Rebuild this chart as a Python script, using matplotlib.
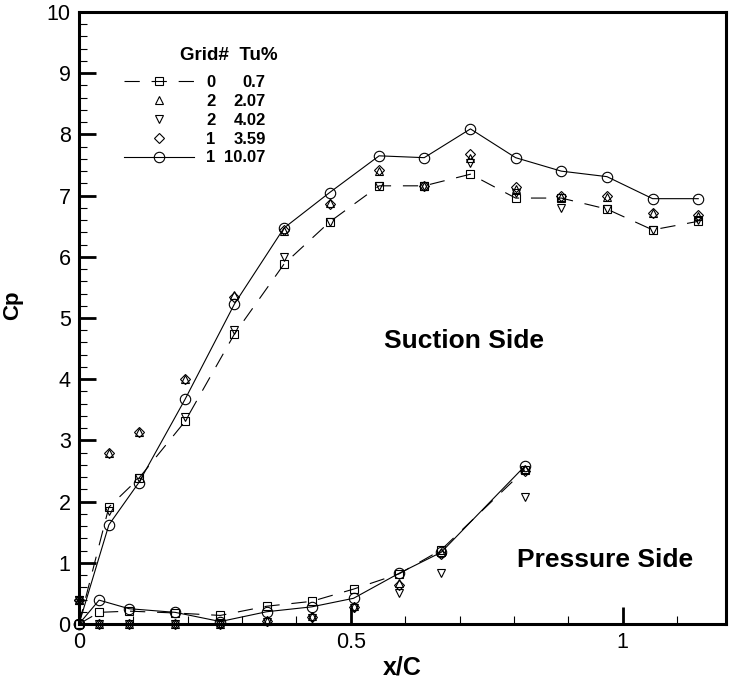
import matplotlib
matplotlib.use('Agg')
import matplotlib.pyplot as plt
from matplotlib.ticker import MultipleLocator, FuncFormatter

plt.rcParams['font.family'] = ['Liberation Sans', 'DejaVu Sans']
plt.rcParams['lines.scale_dashes'] = False

# stations on the suction side and pressure side (x/C)
xs = [0, 0.055, 0.110, 0.195, 0.286, 0.377, 0.461, 0.552, 0.635, 0.720,
      0.803, 0.887, 0.971, 1.055, 1.139]
xp = [0, 0.037, 0.092, 0.177, 0.260, 0.345, 0.428, 0.505, 0.589, 0.666, 0.820]

# suction side Cp, one list per Tu
s_tu07 = [0, 1.91, 2.38, 3.31, 4.74, 5.88, 6.57, 7.16, 7.16, 7.35,
          6.96, 6.96, 6.78, 6.44, 6.58]
s_tu207 = [0.40, 2.79, 3.14, 4.00, 5.37, 6.42, 6.88, 7.40, 7.16, 7.62,
           7.10, 6.98, 6.98, 6.72, 6.66]
s_tu402 = [0.40, 1.85, 2.38, 3.39, 4.80, 5.99, 6.57, 7.16, 7.16, 7.53,
           7.05, 6.79, 6.78, 6.44, 6.60]
s_tu359 = [0.40, 2.79, 3.14, 4.00, 5.35, 6.43, 6.86, 7.42, 7.16, 7.68,
           7.14, 6.99, 6.99, 6.72, 6.69]
s_tu1007 = [0, 1.62, 2.31, 3.67, 5.23, 6.47, 7.05, 7.65, 7.62, 8.09,
            7.62, 7.40, 7.31, 6.95, 6.95]

# pressure side Cp
p_tu07 = [0, 0.19, 0.21, 0.18, 0.14, 0.29, 0.37, 0.57, 0.82, 1.21, 2.52]
p_tu207 = [0.40, 0, 0, 0, 0, 0.05, 0.13, 0.30, 0.67, 1.18, 2.53]
p_tu402 = [0.40, 0, 0, 0, 0, 0.04, 0.10, 0.26, 0.51, 0.83, 2.07]
p_tu359 = [0.40, 0, 0, 0, 0, 0.05, 0.11, 0.28, 0.64, 1.15, 2.50]
p_tu1007 = [0, 0.39, 0.25, 0.19, 0.04, 0.20, 0.28, 0.42, 0.83, 1.17, 2.58]

grid = ['0', '2', '2', '1', '1']
tu = ['0.7', '2.07', '4.02', '3.59', '10.07']

suction = [s_tu07, s_tu207, s_tu402, s_tu359, s_tu1007]
pressure = [p_tu07, p_tu207, p_tu402, p_tu359, p_tu1007]
markers = ['s', '^', 'v', 'D', 'o']
msizes = [5.5, 5.5, 5.5, 5.6, 7.5]
styles = [(0, (11, 8.5)), 'none', 'none', 'none', '-']

fig = plt.figure(figsize=(7.32, 6.83), dpi=100)
ax = fig.add_axes([0.1079, 0.0864, 0.8839, 0.896])

handles = []
for ys, yp, m, ms, ls in zip(suction, pressure, markers, msizes, styles):
    kw = dict(color='black', marker=m, markersize=ms, mfc='none', mec='black',
              mew=0.8, linewidth=0.8, linestyle=ls, clip_on=False)
    h, = ax.plot(xs, ys, **kw)
    ax.plot(xp, yp, **kw)
    handles.append(h)

ax.set_xlim(0, 1.19)
ax.set_ylim(0, 10)

ax.xaxis.set_major_locator(MultipleLocator(0.5))
ax.xaxis.set_minor_locator(MultipleLocator(0.1))
ax.yaxis.set_major_locator(MultipleLocator(1))
ax.yaxis.set_minor_locator(MultipleLocator(0.2))
ax.xaxis.set_major_formatter(FuncFormatter(lambda v, p: '%g' % v))
ax.tick_params(which='both', direction='in', top=False, right=False,
               labelsize=15.5, pad=6)
ax.tick_params(which='major', length=12, width=2)
ax.tick_params(which='minor', length=6, width=0.8)
for sp in ax.spines.values():
    sp.set_linewidth(2.2)

ax.set_xlabel('x/C', fontsize=18, fontweight='bold')
ax.xaxis.set_label_coords(0.5, -0.052)
ax.set_ylabel('Cp', fontsize=16, fontweight='bold')
ax.yaxis.set_label_coords(-0.087, 0.521)

ax.text(0.561, 4.63, 'Suction Side', fontsize=19, fontweight='bold', va='center')
ax.text(0.805, 1.05, 'Pressure Side', fontsize=19, fontweight='bold', va='center')

leg = ax.legend(handles, grid, loc='upper left', bbox_to_anchor=(0.0696, 0.897),
                frameon=False, borderpad=0, borderaxespad=0, handlelength=4.2,
                handletextpad=0.72, labelspacing=0.23,
                prop={'weight': 'bold', 'size': 12})
texts = leg.get_texts()
for t, v in zip(texts, tu):
    ax.annotate(v, xy=(0, 0.5), xycoords=t, xytext=(43, 0),
                textcoords='offset points', ha='right', va='center',
                fontsize=12, fontweight='bold', zorder=6)
ax.annotate('Grid#  Tu%', xy=(0, 0.5), xycoords=texts[0], xytext=(-18.7, 19.4),
            textcoords='offset points', ha='left', va='center',
            fontsize=13.5, fontweight='bold', zorder=6)

fig.savefig('out.png', dpi=100)
